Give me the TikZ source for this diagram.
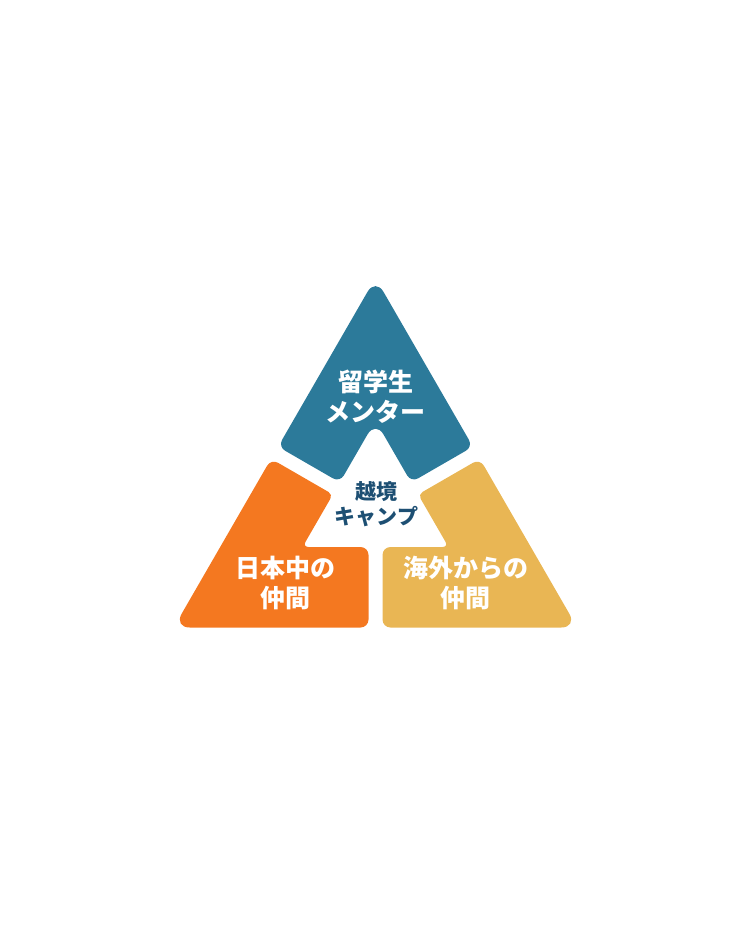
\documentclass[tikz,border=0pt]{standalone}
\usepackage{fontspec}
\newfontfamily\jpfont{Noto Sans CJK JP}
\usetikzlibrary{positioning}
\definecolor{mentorblue}{HTML}{2C7A9A}
\definecolor{japanorange}{HTML}{F47820}
\definecolor{abroadyellow}{HTML}{E9B654}
\definecolor{campnavy}{HTML}{1D4F73}

\begin{document}
\begin{tikzpicture}[x=1pt, y=-1pt,
  piecelabel/.style={text=white, font=\jpfont\bfseries\fontsize{25}{30}\selectfont, align=center, inner sep=0pt},
  camplabel/.style={text=campnavy, font=\jpfont\bfseries\fontsize{21}{25}\selectfont, align=center, inner sep=0pt}]

  \useasboundingbox (0,0) rectangle (752,940);

  % outer triangle
  \coordinate (apex) at (375.5,278);
  \coordinate (bl)   at (173.7,627.5);
  \coordinate (br)   at (577.3,627.5);
  % notch of the centre triangle
  \coordinate (notch) at (375.5,420.6);

  % top piece
  \fill[mentorblue] (326.8,362.35) [rounded corners=8pt] -- (278.1,446.7) -- (339.85,482.34) %
    [rounded corners=16pt] -- (notch) [rounded corners=8pt] -- (411.15,482.34) %
    -- (472.9,446.7) [rounded corners=16pt] -- (apex) -- cycle;

  % left piece
  \fill[japanorange] (222.4,543.15) [rounded corners=16pt] -- (bl) [rounded corners=8pt] %
    -- (368.5,627.5) -- (368.5,547) [rounded corners=6pt] -- (302.5,547) %
    [rounded corners=5pt] -- (332.86,494.46) [rounded corners=8pt] -- (271.1,458.8) -- cycle;

  % right piece
  \fill[abroadyellow] (528.6,543.15) [rounded corners=16pt] -- (br) [rounded corners=8pt] %
    -- (382.5,627.5) -- (382.5,547) [rounded corners=6pt] -- (448.5,547) %
    [rounded corners=5pt] -- (418.14,494.46) [rounded corners=8pt] -- (479.9,458.8) -- cycle;

  % Labels
  \node[piecelabel] (mentor) at (375.5,396.7) {留学生\\メンター}; %
  \node[camplabel]  (camp)   at (376.5,504.2) {越境\\キャンプ}; %
  \node[piecelabel] (japan)  at (285,583.3)   {日本中の\\仲間}; %
  \node[piecelabel] (abroad) at (465.7,583.3) {海外からの\\仲間}; %

\end{tikzpicture}
\end{document}
